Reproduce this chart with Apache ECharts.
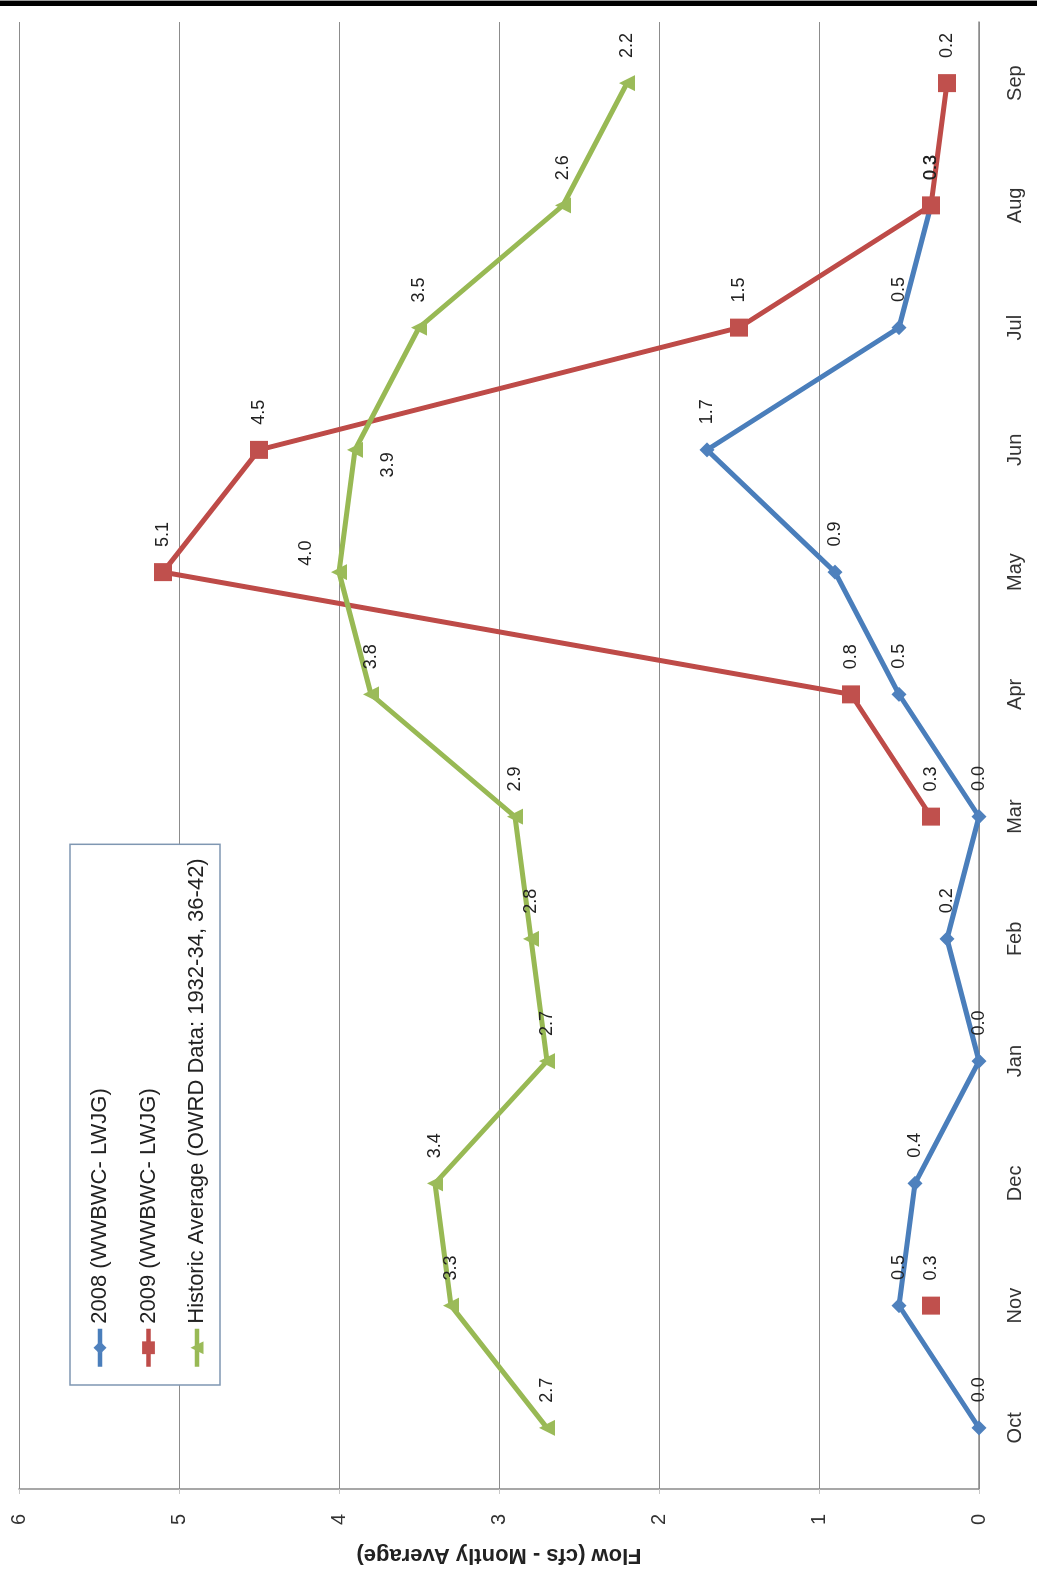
<!DOCTYPE html>
<html>
<head>
<meta charset="utf-8">
<script src="https://cdn.jsdelivr.net/npm/echarts@6/dist/echarts.min.js"></script>
<style>
  html, body { margin: 0; padding: 0; background: #fff; width: 1037px; height: 1574px; overflow: hidden; }
  #topbar { position: absolute; left: 0; top: 0; width: 1037px; height: 6px; background: #000; border-top: 1px solid #9a9a9a; box-sizing: border-box; z-index: 2; }
  /* The chart is laid out landscape and turned a quarter turn counter-clockwise on the page */
  #chart { position: absolute; left: 0; top: 0; width: 1574px; height: 1037px; transform-origin: 0 0; transform: translate(0px, 1574px) rotate(-90deg); }
</style>
</head>
<body>
<div id="chart"></div>
<div id="topbar"></div>
<script>
// Monthly average flow, water year October–September
const months = ['Oct', 'Nov', 'Dec', 'Jan', 'Feb', 'Mar', 'Apr', 'May', 'Jun', 'Jul', 'Aug', 'Sep'];
const flow2008 = [0.0, 0.5, 0.4, 0.0, 0.2, 0.0, 0.5, 0.9, 1.7, 0.5, 0.3, null];
const flow2009 = [null, 0.3, null, null, null, 0.3, 0.8, 5.1, 4.5, 1.5, 0.3, 0.2];
const flowHistoric = [2.7, 3.3, 3.4, 2.7, 2.8, 2.9, 3.8, 4.0, 3.9, 3.5, 2.6, 2.2];
const valueTicks = [0, 1, 2, 3, 4, 5, 6];
const seriesNames = ['2008 (WWBWC- LWJG)', '2009 (WWBWC- LWJG)', 'Historic Average (OWRD Data: 1932-34, 36-42)'];

const FONT = '"Liberation Sans", Arial, sans-serif';
const fmt = p => (p.value == null ? '' : Number(p.value).toFixed(1));

// Two historic labels sit above / below their points instead of to the right
const historicData = flowHistoric.map((v, i) => {
  if (months[i] === 'May') return { value: v, label: { position: 'top', distance: 16, offset: [19, 0] } };
  if (months[i] === 'Jun') return { value: v, label: { position: 'bottom', distance: 16, offset: [-15, 0] } };
  return v;
});

function labelStyle(distance) {
  return { show: true, position: 'right', distance: distance, fontSize: 18, fontFamily: FONT, color: '#222', formatter: fmt };
}

const chart = echarts.init(document.getElementById('chart'), null, { renderer: 'canvas' });
chart.setOption({
  animation: false,
  backgroundColor: '#fff',
  grid: { left: 85, right: 22, top: 19, bottom: 58, containLabel: false },
  legend: {
    orient: 'vertical',
    left: 189, top: 70,
    padding: [19, 14, 12, 16],
    itemGap: 26.5,
    itemWidth: 38, itemHeight: 16,
    backgroundColor: '#fff',
    borderColor: '#7f97b2', borderWidth: 1.5,
    lineStyle: { width: 4.5 },
    textStyle: { fontSize: 22, fontFamily: FONT, color: '#222' },
    data: seriesNames
  },
  xAxis: {
    type: 'category',
    data: months,
    boundaryGap: true,
    axisLine: { show: true, lineStyle: { color: '#8a8a8a', width: 1.5 } },
    axisTick: { show: false },
    axisLabel: { fontSize: 20, fontFamily: FONT, color: '#333', margin: 26 }
  },
  yAxis: {
    type: 'value',
    min: valueTicks[0],
    max: valueTicks[valueTicks.length - 1],
    interval: valueTicks[1] - valueTicks[0],
    name: 'Flow (cfs - Montly Average)',
    nameLocation: 'middle',
    nameGap: 55,
    nameTextStyle: { fontSize: 22, fontWeight: 'bold', fontFamily: FONT, color: '#222' },
    axisLine: { show: true, lineStyle: { color: '#8a8a8a', width: 1.5 } },
    axisTick: { show: true, length: 5, lineStyle: { color: '#c8c8c8' } },
    axisLabel: { fontSize: 20, fontFamily: FONT, color: '#333', margin: 25, formatter: v => String(v) },
    splitLine: { show: true, lineStyle: { color: '#8c8c8c', width: 1.2 } }
  },
  series: [
    {
      name: seriesNames[0], type: 'line', data: flow2008,
      symbol: 'diamond', symbolSize: 15, connectNulls: false,
      lineStyle: { color: '#4A7EBB', width: 5 },
      itemStyle: { color: '#4F81BD' },
      label: labelStyle(18)
    },
    {
      name: seriesNames[1], type: 'line', data: flow2009,
      symbol: 'rect', symbolSize: 18, connectNulls: false,
      lineStyle: { color: '#BE4B48', width: 5 },
      itemStyle: { color: '#C0504D' },
      label: labelStyle(16)
    },
    {
      name: seriesNames[2], type: 'line', data: historicData,
      symbol: 'triangle', symbolSize: 16, connectNulls: false,
      lineStyle: { color: '#98B954', width: 5 },
      itemStyle: { color: '#9BBB59' },
      label: labelStyle(17)
    }
  ]
});
</script>
</body>
</html>
